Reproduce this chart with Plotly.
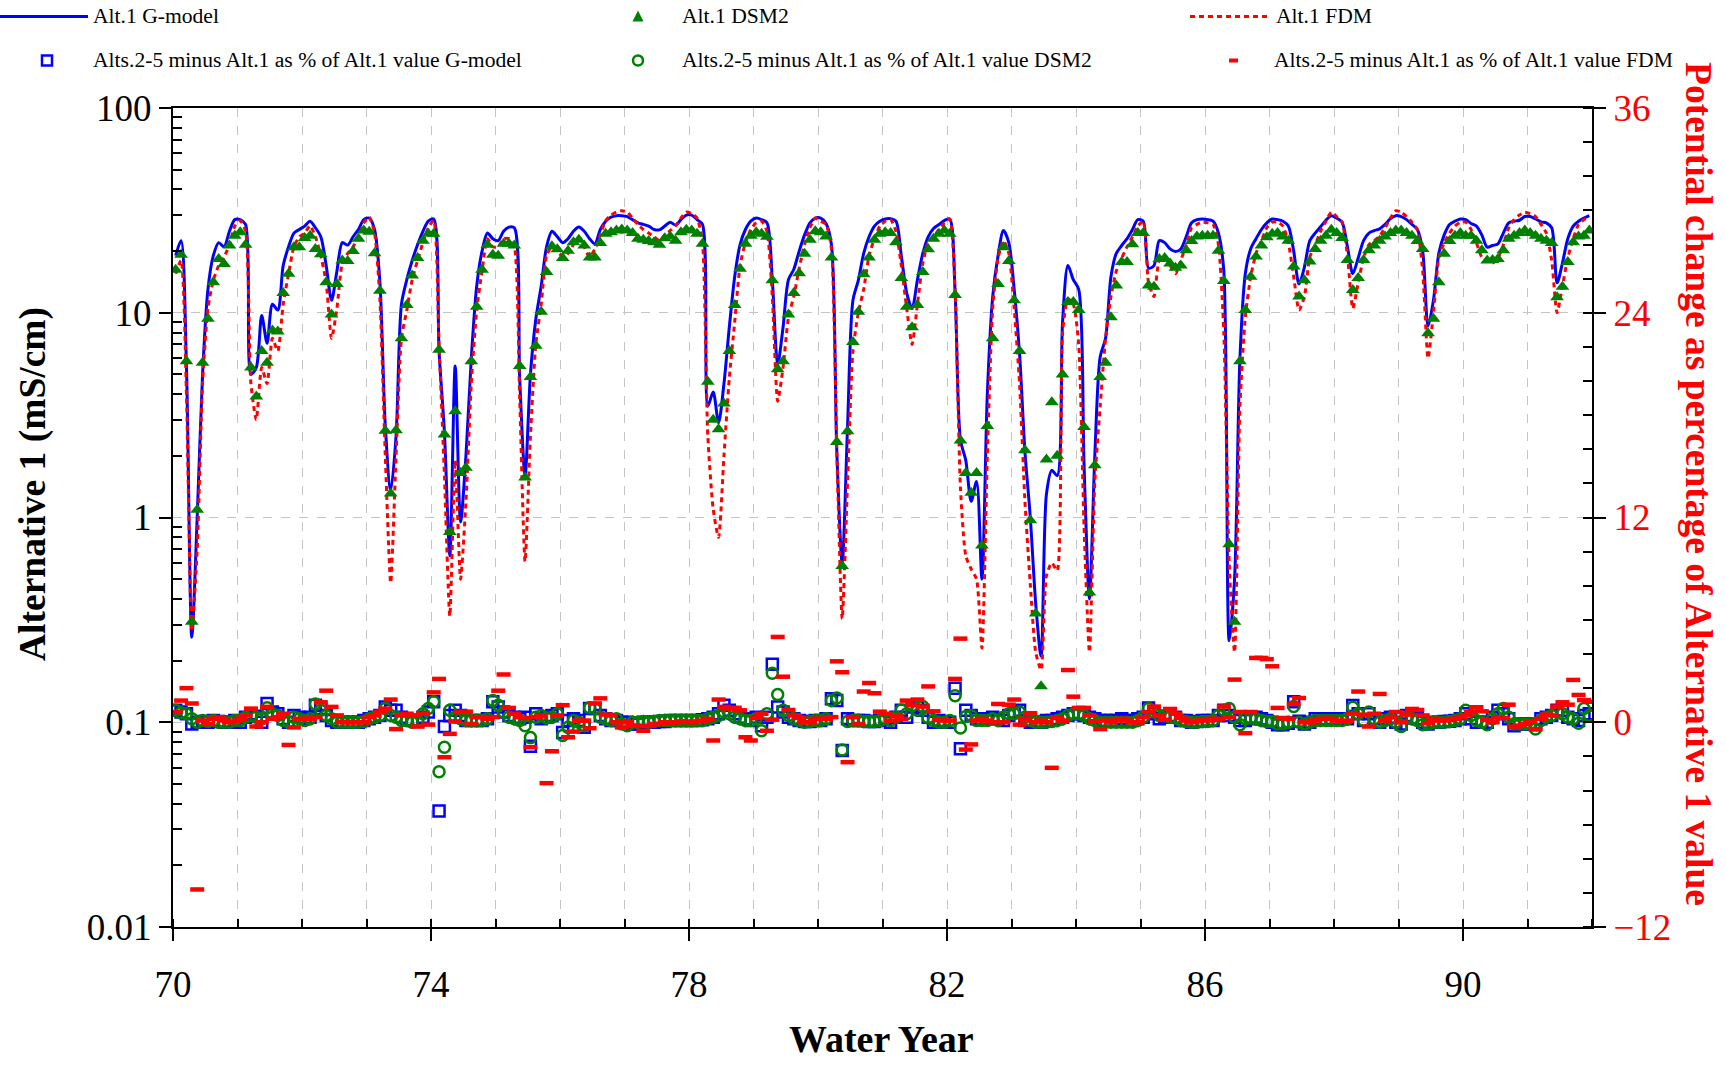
import plotly.graph_objects as go

# ---------------- data (monthly, water years 1970-1991) ----------------
G_MODEL = [
    19, 22.5, 5.5, 0.26, 1.0, 5, 13, 19, 22, 21, 25, 28.5,          # 70
    28.5, 27, 5.0, 5.4, 9.7, 7.1, 11, 10.3, 17, 21, 24.5, 25.5,     # 71
    26.5, 28, 26, 23.5, 17, 11.5, 16, 22, 21.4, 23.5, 25.5, 28.5,   # 72
    29, 25.5, 14, 2.8, 1.35, 2.5, 11, 14.5, 18, 21.5, 25, 28,       # 73
    28.7, 6.5, 2.6, 0.65, 5.5, 0.95, 2.0, 6.0, 13.5, 20, 24.5, 23,  # 74
    22.5, 25, 26.2, 26, 4.8, 1.6, 5, 9.3, 13.5, 21, 25, 23.5,       # 75
    22, 23, 25, 26.2, 25, 23, 21.7, 25.5, 28, 29.3, 29.8, 29.8,     # 76
    29.5, 28.5, 27.5, 27, 26.5, 25.5, 25.4, 26.5, 27.7, 26.8, 28.5, 30,  # 77
    30, 28.5, 27, 3.5, 4.1, 2.9, 4.5, 8.5, 15, 21.5, 25.5, 28,      # 78
    29, 28.5, 27.5, 14.5, 5.6, 8.5, 14.5, 16.3, 20, 24, 27.5, 29,   # 79
    29, 27.3, 21.5, 2.1, 0.6, 2.8, 11.5, 14.4, 19.5, 23.5, 26.5, 28,  # 80
    28.7, 28.8, 28, 19, 12.5, 10.5, 14.5, 19.5, 23.5, 25.8, 27, 28.2,  # 81
    28.7, 12.8, 2.4, 1.9, 1.2, 1.5, 0.5, 4, 12, 19, 25.2, 22,       # 82
    13, 6.3, 2.1, 1.0, 0.38, 0.21, 1.3, 1.7, 1.6, 9, 17, 14.5,      # 83
    13, 1.8, 0.4, 2.0, 6.1, 7.5, 15, 19.5, 21.3, 23, 25.5, 28.5,    # 84
    28, 16.5, 17, 22.5, 22, 20.5, 19.9, 20.5, 23.5, 27.5, 28.5, 28.7,  # 85
    28.5, 28, 24.5, 16, 0.25, 0.5, 6, 15.5, 20.5, 23, 25.5, 27.5,   # 86
    28.7, 28.5, 28, 26.5, 20, 13.8, 16.7, 22.5, 24.5, 26.3, 28.3, 29.8,  # 87
    29, 27.7, 21, 15.5, 18.5, 22.5, 24.5, 25.2, 25.7, 27, 28.8, 29.8,  # 88
    29.5, 28.5, 27, 25.5, 20, 8.6, 11.5, 19.5, 24, 27, 28, 28.7,    # 89
    28.5, 27.3, 26.5, 24, 20.9, 21.3, 21.7, 24.5, 27.5, 28, 28.3, 29.5,  # 90
    29.5, 28.7, 27.8, 27.5, 26, 14, 17.5, 23, 26.5, 28, 29, 29.8,   # 91
]

DSM2 = [
    16.2, 19.2, 5.8, 0.31, 1.09, 5.7, 9.35, 14.1, 18.3, 17.3, 21.3, 23.8,   # 70
    24.7, 21.5, 5.4, 3.9, 6.5, 5.7, 8.2, 8.1, 12.5, 15.5, 20.9, 20.9,       # 71
    23.2, 23.8, 20.5, 19.3, 14.1, 9.8, 13.8, 18, 17.9, 20, 23, 25.2,        # 72
    24.9, 19.5, 12.8, 2.65, 1.31, 2.67, 7.5, 10.9, 15.2, 18.5, 22.5, 24.3,  # 73
    24.3, 6.6, 2.54, 0.85, 3.3, 1.65, 1.75, 5.8, 10.7, 16.2, 21.5, 19.2,    # 74
    19, 21.7, 21.7, 21.3, 5.5, 1.57, 4.85, 6.9, 10.1, 15.8, 21.1, 20.4,     # 75
    18.5, 20.1, 22.1, 22.7, 21.3, 18.6, 18.6, 21.9, 24.3, 24.7, 25.2, 25.5, # 76
    25.2, 24.5, 23, 22.7, 22.4, 22.1, 21.5, 23.1, 23.6, 22.5, 24.7, 25.4,   # 77
    25.2, 24.3, 21.7, 4.6, 3.0, 2.7, 3.6, 6.5, 10.9, 16.4, 21.7, 23.8,      # 78
    24.7, 24.3, 23.5, 14.4, 5.3, 5.8, 9.8, 12.5, 15.6, 19.4, 22.7, 25,      # 79
    24.7, 23.6, 18.6, 2.34, 0.58, 2.64, 7.2, 10.1, 15.4, 18.6, 22.7, 24.3,  # 80
    24.7, 24.5, 22.1, 14.8, 10.7, 8.5, 10.9, 15.8, 20.4, 23, 24.3, 25.2,    # 81
    24.3, 12.2, 2.38, 1.65, 1.32, 1.65, 0.73, 2.8, 7.5, 13.8, 20.9, 17.9,   # 82
    11.5, 6.5, 2.13, 0.97, 0.34, 0.15, 1.92, 3.66, 2.0, 5.0, 11.3, 11.3,    # 83
    10.3, 2.77, 0.43, 1.8, 4.85, 5.7, 9.5, 13.6, 17.7, 17.7, 21.6, 24.5,    # 84
    24.5, 13.6, 13.4, 18.3, 18.5, 17.4, 16.6, 17.0, 20.2, 22.4, 23.6, 23.8, # 85
    23.8, 23.8, 20.1, 14.3, 0.74, 0.31, 5.8, 10.3, 15.0, 18.8, 21.3, 23.4,  # 86
    24.3, 24.5, 23.6, 22.5, 16.8, 12.0, 14.4, 17.8, 20.5, 22.5, 23.8, 25.4, # 87
    24.5, 23.2, 18.1, 12.9, 14.8, 18.1, 20.2, 21.3, 22.5, 23.6, 24.5, 25.2, # 88
    25.2, 24.5, 23.8, 22.4, 20.5, 7.95, 9.35, 14.1, 19.4, 22.4, 23.8, 24.5, # 89
    23.8, 23.8, 22.5, 20.2, 18, 18.1, 18.3, 20.2, 23, 23.8, 24.5, 25.2,     # 90
    24.5, 23.8, 23, 22.5, 21.9, 11.9, 13.4, 17.7, 22.1, 23.6, 23.8, 25.2,   # 91
]

FDM = [
    15.5, 18, 4, 0.28, 0.7, 4.5, 10.5, 14.4, 17, 18.7, 21.5, 26.5,      # 70
    28.2, 25, 4.5, 3.0, 5.4, 4.5, 7.5, 6.5, 11, 15.5, 21, 23.5,         # 71
    24.5, 26.6, 23.5, 19, 14, 7.5, 10.5, 17.5, 19.5, 21, 23.5, 27.5,    # 72
    29.3, 24.5, 11.5, 2.0, 0.48, 2.0, 7.5, 10.3, 14.5, 18, 22, 26,      # 73
    28.2, 7, 1.6, 0.33, 1.9, 0.5, 1.2, 4.5, 10.3, 16, 23, 21,           # 74
    21, 23, 23, 21, 3.8, 0.61, 2.5, 7, 11, 19, 21, 20,                  # 75
    18.8, 19.5, 21.5, 23, 21, 18.7, 20.5, 24, 28.2, 30, 31, 31.5,       # 76
    31, 29, 27, 25.5, 24.5, 23.5, 22.5, 24, 25.2, 26.5, 29, 31,         # 77
    30.5, 29, 22, 2.5, 1.1, 0.8, 2.0, 4.8, 9, 17, 22, 25.5,             # 78
    27.5, 28, 25, 12, 3.7, 5.4, 9.5, 12, 16.5, 21.5, 26, 29,            # 79
    28, 27, 20.5, 2.1, 0.32, 1.5, 6.5, 10, 13, 19, 23, 26.5,            # 80
    28, 28.5, 25, 17, 10.5, 7.0, 11, 17.5, 22, 23.5, 25.5, 27.5,        # 81
    28.7, 13, 1.4, 0.65, 0.56, 0.5, 0.23, 2.0, 10.5, 18.5, 22.5, 19.5,  # 82
    10.5, 4.5, 1.2, 0.47, 0.22, 0.18, 0.52, 0.6, 0.55, 8, 11.7, 11,     # 83
    7, 0.9, 0.22, 1.5, 3.5, 7.5, 12, 16, 18.5, 21, 23.5, 26.5,          # 84
    28, 14, 12, 18, 18.5, 17, 15.5, 18, 21.5, 26, 27, 27.7,             # 85
    27.5, 27, 21.5, 8, 0.6, 0.22, 3.5, 9.5, 15, 19.5, 22.5, 26,         # 86
    27.7, 27.7, 26.5, 22, 15, 10.3, 12, 18.7, 21.5, 25, 28, 31,         # 87
    29.5, 27.7, 19, 10.5, 14, 18.5, 21.5, 22.5, 23.8, 26, 29, 31.5,     # 88
    31, 29.5, 27.7, 25.5, 16, 6, 10, 18.5, 22, 24.5, 26.5, 27.7,        # 89
    27.7, 25.5, 22, 18.7, 18, 17.5, 18.5, 21.5, 26, 28.5, 30, 31,       # 90
    30.5, 29.5, 27, 24.5, 18, 10, 13.5, 18.5, 23, 27, 28.5, 29.3,       # 91
]

G_PCT = [
    0.7, 0.6, 0.5, -0.1, 0.0, 0.05, 0.0, 0.1, 0.05, 0.0, 0.0, 0.1,      # 70
    0.0, 0.3, 0.5, 0.35, 0.0, 1.1, 0.6, 0.5, 0.2, 0.0, 0.4, 0.3,        # 71
    0.2, 0.3, 1.0, 0.8, 0.4, 0.1, 0.0, 0.0, 0.0, 0.0, 0.0, 0.1,         # 72
    0.2, 0.3, 0.4, 0.9, 0.7, 0.7, 0.3, 0.15, 0.1, 0.05, 0.3, 0.6,       # 73
    1.2, -5.2, -0.25, 0.4, 0.7, 0.4, 0.1, 0.1, 0.1, 0.1, 0.2, 1.2,      # 74
    0.9, 0.6, 0.4, 0.3, 0.2, 0.3, -1.4, 0.5, 0.2, 0.3, 0.4, 0.5,        # 75
    -0.6, 0.1, 0.2, 0.1, -0.3, 0.8, 0.8, 0.4, 0.2, 0.1, 0.1, 0.0,       # 76
    0.0, -0.1, -0.1, 0.0, 0.0, 0.0, 0.05, 0.05, 0.1, 0.1, 0.1, 0.1,     # 77
    0.1, 0.1, 0.15, 0.2, 0.3, 0.5, 1.0, 0.7, 0.5, 0.3, 0.2, 0.1,        # 78
    0.3, -0.2, 0.3, 3.4, 0.9, 0.6, 0.3, 0.2, 0.1, 0.05, 0.05, 0.1,      # 79
    0.1, 0.2, 1.37, 1.27, -1.66, 0.2, 0.1, 0.1, 0.1, 0.05, 0.05, 0.1,   # 80
    0.2, 0.0, 0.3, 0.7, 0.3, 0.9, 0.9, 0.7, 0.3, 0.0, 0.1, 0.0,         # 81
    0.0, 2.0, -1.56, 0.7, 0.4, 0.2, 0.2, 0.2, 0.3, 0.2, 0.1, 0.4,       # 82
    0.6, 0.7, 0.1, 0.0, 0.0, 0.0, 0.1, 0.1, 0.2, 0.3, 0.4, 0.5,         # 83
    0.5, 0.4, 0.3, 0.2, 0.1, 0.1, 0.1, 0.1, 0.2, 0.1, 0.1, 0.2,         # 84
    0.3, 0.84, 0.5, 0.2, 0.3, 0.4, 0.3, 0.1, 0.1, 0.0, 0.05, 0.1,       # 85
    0.1, 0.1, 0.4, 0.7, 0.4, 0.3, 0.1, 0.1, 0.2, 0.3, 0.2, 0.1,         # 86
    0.0, -0.14, -0.14, -0.06, 1.2, 0.06, -0.1, 0.0, 0.2, 0.2, 0.2, 0.2, # 87
    0.2, 0.2, 0.2, 0.98, 0.5, 0.1, 0.5, 0.2, 0.0, 0.2, 0.3, 0.0,        # 88
    -0.1, 0.4, 0.25, 0.2, 0.0, -0.1, 0.0, 0.0, 0.05, 0.06, 0.1, 0.2,    # 89
    0.5, 0.2, 0.0, 0.0, 0.0, 0.3, 0.7, 0.5, 0.2, -0.2, -0.1, -0.1,      # 90
    -0.1, -0.14, 0.2, 0.3, 0.4, 0.7, 0.7, 0.3, 0.2, 0.1, 0.4, 0.5,      # 91
]

DSM2_PCT = [
    0.7, 0.55, 0.5, 0.2, 0.0, 0.1, 0.05, 0.1, 0.0, 0.0, 0.0, 0.1,       # 70
    0.1, 0.3, 0.4, 0.3, 0.2, 0.85, 0.5, 0.4, 0.1, 0.0, 0.3, 0.2,        # 71
    0.1, 0.2, 1.07, 0.7, 0.4, 0.2, 0.0, 0.0, 0.0, 0.0, 0.0, 0.05,       # 72
    0.2, 0.3, 0.4, 0.8, 0.4, 0.3, 0.1, 0.1, 0.0, 0.1, 0.5, 0.8,         # 73
    1.2, -2.9, -1.46, 0.7, 0.3, 0.2, 0.1, 0.1, 0.1, 0.1, 0.2, 1.27,     # 74
    1.0, 0.6, 0.3, 0.2, 0.1, -0.2, -0.9, 0.3, 0.4, 0.25, 0.3, 0.5,      # 75
    -0.78, -0.3, 0.1, 0.0, -0.2, 0.85, 0.8, 0.3, 0.2, 0.1, 0.2, -0.1,   # 76
    -0.2, 0.0, 0.0, 0.05, 0.0, 0.05, 0.1, 0.1, 0.1, 0.1, 0.1, 0.1,      # 77
    0.1, 0.1, 0.1, 0.2, 0.3, 0.4, 0.6, 0.5, 0.3, 0.2, 0.1, 0.1,         # 78
    0.2, -0.5, 0.5, 2.87, 1.62, 0.7, 0.4, 0.2, 0.1, 0.0, 0.05, 0.1,     # 79
    0.1, 0.2, 1.27, 1.42, -1.62, 0.05, 0.1, 0.1, 0.05, 0.05, 0.05, 0.1, # 80
    0.2, 0.1, 0.3, 0.72, 0.5, 0.97, 0.7, 0.92, 0.25, 0.1, 0.0, 0.0,     # 81
    0.1, 1.56, -0.33, 0.33, 0.4, 0.1, 0.1, 0.1, 0.2, 0.1, 0.3, 0.5,     # 82
    0.5, 0.6, 0.3, 0.1, 0.0, 0.0, 0.0, 0.05, 0.1, 0.2, 0.4, 0.5,        # 83
    0.5, 0.4, 0.2, 0.1, 0.0, 0.0, 0.0, 0.0, 0.0, 0.0, 0.0, 0.1,         # 84
    0.3, 0.8, 0.6, 0.4, 0.4, 0.3, 0.25, 0.1, 0.05, 0.0, 0.0, 0.05,      # 85
    0.05, 0.1, 0.4, 0.7, 0.8, 0.3, -0.14, 0.2, 0.25, 0.2, 0.1, 0.05,    # 86
    0.05, -0.1, -0.1, 0.0, 0.92, 0.0, -0.1, 0.0, 0.1, 0.1, 0.1, 0.1,    # 87
    0.1, 0.1, 0.2, 0.88, 0.5, 0.1, 0.6, 0.2, 0.0, 0.1, 0.2, 0.0,        # 88
    -0.25, 0.3, 0.2, 0.1, -0.14, -0.1, 0.0, 0.0, 0.0, 0.05, 0.1, 0.2,   # 89
    0.7, 0.4, 0.1, 0.0, -0.14, 0.2, 0.5, 0.8, 0.3, -0.1, -0.1, -0.1,    # 90
    -0.1, -0.4, 0.1, 0.3, 0.4, 0.6, 0.5, 0.3, 0.2, -0.06, 0.8, 0.4,     # 91
]

FDM_PCT = [
    0.6, 1.27, 2.0, 1.1, -9.8, 0.1, -0.1, 0.2, 0.3, 0.1, 0.0, 0.05,     # 70
    0.2, 0.4, 0.8, -0.25, 0.0, 0.9, 0.2, 0.3, 0.5, -1.33, -0.3, 0.2,    # 71
    0.2, 0.2, 0.3, 1.17, 1.85, 0.9, 0.4, 0.0, 0.0, 0.0, 0.0, 0.0,       # 72
    0.3, 0.4, 0.6, 0.8, 1.33, -0.4, 0.4, 0.5, 0.4, -0.25, 0.5, -0.14,   # 73
    1.75, 2.54, -2.05, -0.68, 0.05, 0.6, 0.62, -0.1, 0.3, 0.3, 0.2, 0.3,  # 74
    1.85, 2.8, 0.84, 0.5, 0.3, 0.25, -1.46, 0.3, 0.35, -3.57, -1.7, 0.4,  # 75
    1.0, -0.88, -0.55, 0.1, 0.1, -0.35, 1.1, 1.4, 0.45, 0.4, 0.0, -0.3,   # 76
    0.0, -0.2, -0.2, -0.5, -0.2, -0.1, -0.1, 0.0, 0.0, 0.0, 0.05, 0.05,   # 77
    0.0, 0.05, 0.1, 0.2, -1.07, 1.33, 0.9, 0.8, 0.85, 0.7, -0.88, -1.07,  # 78
    0.25, 0.5, -0.5, 0.15, 5.0, 2.67, 0.72, 0.4, 0.25, 0.0, 0.0, 0.2,     # 79
    0.2, 0.2, 0.3, 3.57, 2.93, -2.34, 0.3, -0.1, 1.8, 2.3, 1.7, 0.62,     # 80
    0.5, 0.1, 0.4, 0.2, 1.27, 1.0, 1.33, 0.92, 2.1, 0.64, 0.14, 0.1,      # 81
    0.1, 2.54, 4.9, -1.6, -1.3, 0.1, 0.2, 0.1, 0.0, 1.07, 0.0, 1.03,      # 82
    1.33, -0.14, 0.2, 0.53, 0.0, 0.1, 0.0, -2.67, 0.25, 0.1, 3.06, 1.5,   # 83
    0.84, 0.84, 0.4, 0.06, -0.4, 0.1, 0.0, 0.1, 0.2, 0.1, 0.0, 0.0,       # 84
    0.3, 0.6, 0.92, 0.4, 0.14, 0.78, 0.5, 0.25, 0.1, 0.0, 0.05, 0.14,     # 85
    0.1, 0.2, 0.2, 0.92, 0.3, 2.5, 0.6, -0.64, 0.6, 3.77, 3.77, 3.7,      # 86
    3.28, 0.84, 0.25, 0.2, 1.07, 1.42, 0.0, 0.0, 0.1, 0.2, 0.2, 0.2,      # 87
    0.1, 0.06, 0.1, 0.5, 1.8, 0.45, -0.25, 0.5, 1.66, 0.1, 0.3, 0.6,      # 88
    0.0, 0.45, 0.78, 0.72, 0.4, -0.06, 0.2, 0.1, 0.1, 0.14, 0.2, 0.3,     # 89
    0.4, 0.6, 0.88, 0.64, 0.14, 0.0, 0.3, 0.25, 1.03, -0.25, -0.2, -0.1,  # 90
    0.06, -0.4, 0.2, 0.45, 0.4, 0.92, 1.17, 1.03, 2.48, 1.6, 1.3, 1.2,    # 91
]

X_TICKS = [70, 74, 78, 82, 86, 90]
Y_TICKS = [0.01, 0.1, 1, 10, 100]
Y_TICK_TEXT = ["0.01", "0.1", "1", "10", "100"]
Y2_TICKS = [-12, 0, 12, 24, 36]

LEGEND_LABELS = [
    "Alt.1 G-model", "Alt.1 DSM2", "Alt.1 FDM",
    "Alts.2-5 minus Alt.1 as % of Alt.1 value G-model",
    "Alts.2-5 minus Alt.1 as % of Alt.1 value DSM2",
    "Alts.2-5 minus Alt.1 as % of Alt.1 value FDM",
]

# month midpoints of water years 70..91
N_MONTHS = len(G_MODEL)
water_year = [70 + (i + 0.5) / 12 for i in range(N_MONTHS)]

BLUE, GREEN, RED = "#0000FF", "#008000", "#FF0000"
FONT = "Liberation Serif"

fig = go.Figure()
fig.add_trace(go.Scatter(x=water_year, y=G_MODEL, mode="lines", name=LEGEND_LABELS[0],
                         line=dict(color=BLUE, width=3, shape="spline", smoothing=0.8)))
fig.add_trace(go.Scatter(x=water_year, y=FDM, mode="lines", name=LEGEND_LABELS[2],
                         line=dict(color=RED, width=3, dash="5px,4px", shape="spline", smoothing=0.6)))
fig.add_trace(go.Scatter(x=water_year, y=DSM2, mode="markers", name=LEGEND_LABELS[1],
                         marker=dict(symbol="triangle-up", size=12, color=GREEN)))
fig.add_trace(go.Scatter(x=water_year, y=G_PCT, mode="markers", yaxis="y2", name=LEGEND_LABELS[3],
                         marker=dict(symbol="square-open", size=11, color=BLUE,
                                     line=dict(width=2.5, color=BLUE))))
fig.add_trace(go.Scatter(x=water_year, y=DSM2_PCT, mode="markers", yaxis="y2", name=LEGEND_LABELS[4],
                         marker=dict(symbol="circle-open", size=11, color=GREEN,
                                     line=dict(width=2.5, color=GREEN))))
fig.add_trace(go.Scatter(x=water_year, y=FDM_PCT, mode="markers", yaxis="y2", name=LEGEND_LABELS[5],
                         marker=dict(symbol="line-ew", size=10, color=RED,
                                     line=dict(width=4.5, color=RED))))

# ---------------- layout ----------------
L, R, T, B = 173, 1592, 108, 927
W, H = 1726, 1065


def px(x):
    return (x - L) / (R - L)


def py(y):
    return (B - y) / (B - T)


grid = dict(gridcolor="#c4c4c4", griddash="dash", gridwidth=1)
minor_log = [m * 10 ** e for e in range(-2, 2) for m in range(2, 10)]

fig.update_layout(
    width=W, height=H,
    margin=dict(l=L, r=W - R, t=T, b=H - B, autoexpand=False),
    paper_bgcolor="white", plot_bgcolor="white",
    showlegend=False,
    font=dict(family=FONT, color="black"),
    xaxis=dict(range=[70, 92], tickmode="array", tickvals=X_TICKS,
               ticks="outside", ticklen=12, tickwidth=1.5, tickcolor="black",
               showline=True, linecolor="black", linewidth=2, mirror=True,
               showgrid=True, zeroline=False, **grid,
               minor=dict(dtick=1, tick0=70, ticks="inside", ticklen=8, tickcolor="black",
                          showgrid=True, **grid),
               tickfont=dict(family=FONT, size=37, color="black"),
               ticklabelstandoff=12),
    yaxis=dict(type="log", range=[-2, 2], tickmode="array", tickvals=Y_TICKS, ticktext=Y_TICK_TEXT,
               ticks="outside", ticklen=12, tickwidth=1.5, tickcolor="black",
               showline=True, linecolor="black", linewidth=2,
               showgrid=True, zeroline=False, **grid,
               minor=dict(tickmode="array", tickvals=minor_log, ticks="inside", ticklen=9,
                          tickcolor="black", showgrid=False),
               tickfont=dict(family=FONT, size=37, color="black")),
    yaxis2=dict(overlaying="y", side="right", range=[-12, 36], tickmode="array", tickvals=Y2_TICKS,
                ticks="outside", ticklen=12, tickwidth=1.5, tickcolor="black",
                showline=True, linecolor="black", linewidth=2,
                showgrid=False, zeroline=False,
                minor=dict(dtick=2, tick0=0, ticks="inside", ticklen=9, tickcolor="black", showgrid=False),
                tickfont=dict(family=FONT, size=37, color=RED)),
)

annotations = [
    dict(text="<b>Water Year</b>", x=px(881), y=py(1039), xref="paper", yref="paper",
         showarrow=False, xanchor="center", yanchor="middle",
         font=dict(family=FONT, size=38, color="black")),
    dict(text="<b>Alternative 1 (mS/cm)</b>", x=px(33), y=py(484), xref="paper", yref="paper",
         showarrow=False, textangle=-90, xanchor="center", yanchor="middle",
         font=dict(family=FONT, size=37.5, color="black")),
    dict(text="<b>Potential change as percentage of Alternative 1 value</b>", x=px(1699), y=py(484),
         xref="paper", yref="paper", showarrow=False, textangle=90, xanchor="center", yanchor="middle",
         font=dict(family=FONT, size=37.5, color=RED)),
]

# manual legend (two rows, three columns)
row1, row2 = 16.5, 60.5
legend_text_pos = [(91, row1), (680, row1), (1274, row1), (91, row2), (680, row2), (1272, row2)]
for k, (lx, ly) in enumerate(legend_text_pos):
    annotations.append(dict(text=LEGEND_LABELS[k], x=px(lx), y=py(ly), xref="paper", yref="paper",
                            showarrow=False, xanchor="left", yanchor="middle",
                            font=dict(family=FONT, size=21.6, color="black")))

shapes = [
    dict(type="line", xref="paper", yref="paper", x0=px(0), x1=px(88), y0=py(row1), y1=py(row1),
         line=dict(color=BLUE, width=3)),
    dict(type="path", xref="paper", yref="paper",
         path=f"M {px(632.5)},{py(row1 + 5)} L {px(643.5)},{py(row1 + 5)} L {px(638)},{py(row1 - 6)} Z",
         fillcolor=GREEN, line=dict(color=GREEN, width=0)),
    dict(type="line", xref="paper", yref="paper", x0=px(1190), x1=px(1271), y0=py(row1), y1=py(row1),
         line=dict(color=RED, width=3, dash="5px,4px")),
    dict(type="rect", xref="paper", yref="paper", x0=px(42), x1=px(52), y0=py(row2 - 5), y1=py(row2 + 5),
         line=dict(color=BLUE, width=2.5)),
    dict(type="circle", xref="paper", yref="paper", x0=px(633), x1=px(643), y0=py(row2 - 5), y1=py(row2 + 5),
         line=dict(color=GREEN, width=2.5)),
    dict(type="rect", xref="paper", yref="paper", x0=px(1229), x1=px(1238), y0=py(row2 - 2), y1=py(row2 + 2),
         fillcolor=RED, line=dict(color=RED, width=0)),
]

fig.update_layout(annotations=annotations, shapes=shapes)

fig.write_html("out.html")
